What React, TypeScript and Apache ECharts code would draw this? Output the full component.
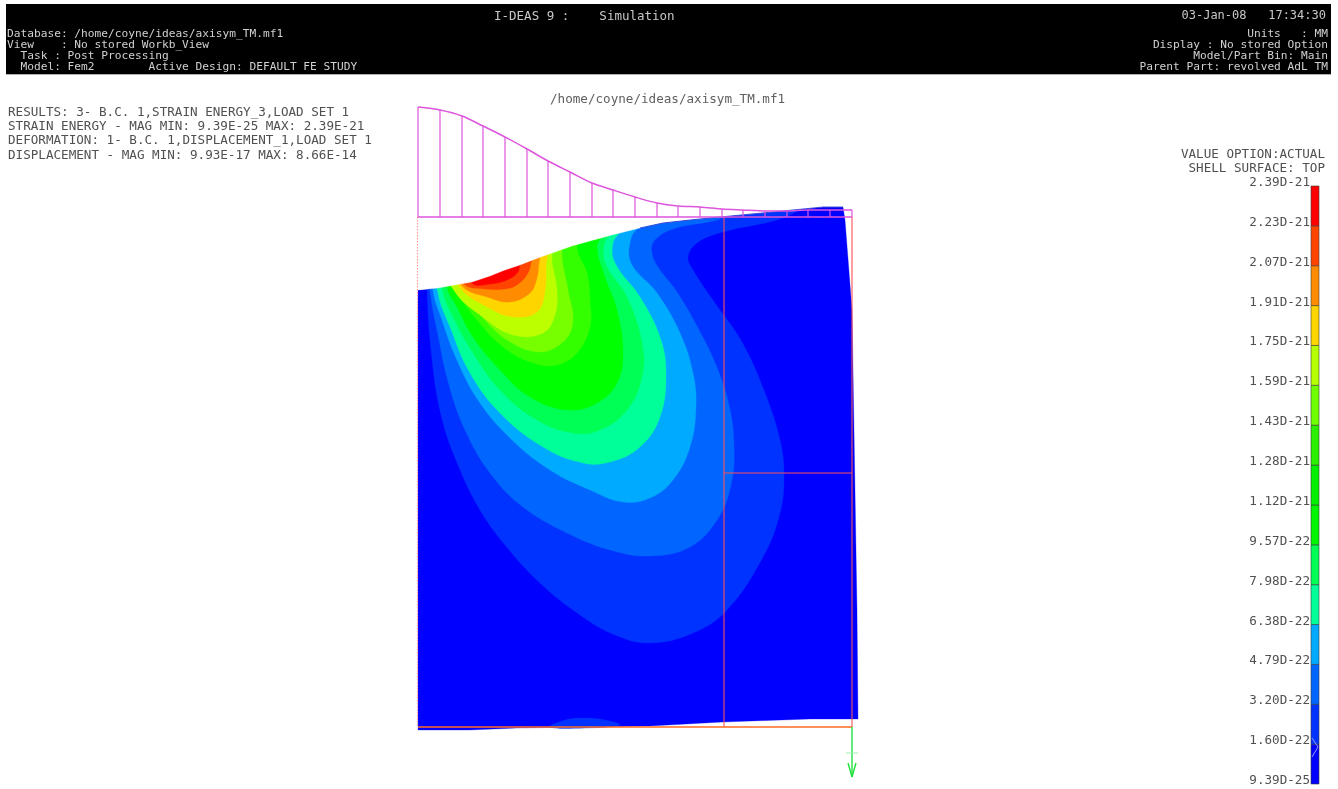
import React, { useEffect, useRef } from "react";
import * as echarts from "echarts";

type Pt = [number, number];

// Header and annotation text
const headerLeft = [
  "Database: /home/coyne/ideas/axisym_TM.mf1",
  "View    : No stored Workb_View",
  "  Task : Post Processing",
  "  Model: Fem2        Active Design: DEFAULT FE STUDY",
];
const headerRight = ["Units   : MM", "Display : No stored Option", "Model/Part Bin: Main", "Parent Part: revolved AdL TM"];
const headerCenter = "I-DEAS 9 :    Simulation";
const headerDate = "03-Jan-08   17:34:30";
const resultLines = [
  "RESULTS: 3- B.C. 1,STRAIN ENERGY_3,LOAD SET 1",
  "STRAIN ENERGY - MAG MIN: 9.39E-25 MAX: 2.39E-21",
  "DEFORMATION: 1- B.C. 1,DISPLACEMENT_1,LOAD SET 1",
  "DISPLACEMENT - MAG MIN: 9.93E-17 MAX: 8.66E-14",
];
const modelPath = "/home/coyne/ideas/axisym_TM.mf1";
const legendHead = ["VALUE OPTION:ACTUAL", "SHELL SURFACE: TOP"];

// Colour bar, bottom to top
const tickLabels = ["9.39D-25", "1.60D-22", "3.20D-22", "4.79D-22", "6.38D-22", "7.98D-22", "9.57D-22", "1.12D-21", "1.28D-21", "1.43D-21", "1.59D-21", "1.75D-21", "1.91D-21", "2.07D-21", "2.23D-21", "2.39D-21"];
const bandColors = ["#0000ff", "#0033ff", "#0066ff", "#00aaff", "#00ff99", "#00ff55", "#00f500", "#00f000", "#2af000", "#70ff00", "#b5ff00", "#ffd500", "#ff8c00", "#ff4400", "#ff0000"];

// Deformed body outline
const bodyOutline: Pt[] = [[418, 290], [438, 288], [455, 285], [472, 282], [490, 276], [505, 270], [520, 265], [538, 258], [555, 252], [572, 246], [590, 241], [612, 235], [640, 228], [663, 223], [690, 220], [720, 217], [773, 212], [823, 207], [843, 207], [845, 220], [852, 310], [857, 610], [858, 719], [810, 719], [723, 722], [650, 726], [517, 728], [470, 730], [418, 730]];
const surfaceCount = 19;

// Contour level outlines, outermost first
const contour1: Pt[] = [[800, 205], [783, 218], [723, 232], [697, 243], [688, 257], [693, 270], [715, 303], [742, 342], [765, 393], [780, 440], [784, 475], [780, 513], [763, 557], [727, 610], [693, 633], [650, 643], [615, 635], [580, 615], [540, 583], [505, 545], [480, 510], [458, 465], [441, 415], [431, 350], [427, 290], [426, 240], [600, 190]];
const contour1b: Pt[] = [[550, 727], [565, 720], [585, 718], [605, 720], [620, 725], [585, 728]];
const contour2: Pt[] = [[730, 210], [720, 219], [673, 229], [654, 241], [652, 253], [658, 267], [677, 292], [698, 328], [716, 365], [729, 405], [734, 445], [731, 485], [717, 520], [690, 547], [650, 556], [610, 550], [567, 533], [523, 507], [490, 473], [465, 430], [449, 385], [438, 335], [430, 290], [428, 240], [600, 190]];
const contour3: Pt[] = [[640, 220], [631, 238], [631, 263], [657, 293], [680, 333], [693, 373], [696, 407], [690, 447], [673, 480], [650, 498], [623, 502], [590, 490], [550, 470], [510, 438], [478, 400], [456, 358], [442, 320], [433, 290], [432, 240], [550, 200]];
const contour4: Pt[] = [[622, 225], [613, 243], [615, 263], [640, 297], [660, 337], [666, 373], [660, 417], [640, 447], [610, 462], [583, 463], [543, 447], [500, 413], [470, 373], [450, 327], [438, 293], [436, 250], [550, 210]];
const contour5: Pt[] = [[612, 225], [604, 245], [606, 265], [627, 297], [642, 343], [642, 377], [627, 410], [600, 430], [573, 433], [537, 420], [500, 390], [473, 353], [453, 317], [443, 292], [440, 260], [540, 215]];
const contour6: Pt[] = [[603, 230], [597, 247], [605, 277], [617, 310], [623, 353], [617, 383], [597, 403], [567, 410], [530, 397], [500, 370], [473, 337], [457, 307], [448, 290], [445, 262], [530, 215]];
const contour7: Pt[] = [[585, 225], [577, 247], [587, 273], [590, 300], [590, 327], [577, 353], [557, 365], [533, 363], [503, 347], [477, 320], [460, 295], [455, 270], [520, 225]];
const contour8: Pt[] = [[570, 225], [562, 250], [568, 290], [573, 320], [565, 340], [540, 352], [507, 340], [483, 318], [463, 295], [450, 285], [450, 265], [510, 225]];
const contour9: Pt[] = [[560, 225], [552, 255], [557, 290], [555, 315], [543, 333], [513, 335], [480, 315], [455, 292], [450, 270], [510, 230]];
const contour10: Pt[] = [[555, 230], [547, 258], [545, 292], [537, 312], [513, 317], [487, 307], [460, 288], [456, 270], [510, 235]];
const contour11: Pt[] = [[548, 235], [540, 258], [537, 278], [530, 293], [510, 302], [487, 297], [463, 287], [460, 270], [505, 240]];
const contour12: Pt[] = [[540, 240], [532, 260], [528, 273], [517, 285], [505, 289], [485, 289], [465, 285], [462, 272], [500, 245]];
const contour13: Pt[] = [[530, 245], [520, 264], [518, 272], [507, 280], [490, 284], [473, 284], [470, 270], [500, 250]];

const contourLevels: { pts: Pt[]; color: string; smooth: number }[] = [
  { pts: bodyOutline, color: bandColors[0], smooth: 0 },
  { pts: contour1, color: bandColors[1], smooth: 0.4 },
  { pts: contour1b, color: bandColors[1], smooth: 0.4 },
  { pts: contour2, color: bandColors[2], smooth: 0.4 },
  { pts: contour3, color: bandColors[3], smooth: 0.4 },
  { pts: contour4, color: bandColors[4], smooth: 0.4 },
  { pts: contour5, color: bandColors[5], smooth: 0.4 },
  { pts: contour6, color: "#00ff00", smooth: 0.4 },
  { pts: contour7, color: "#33ff00", smooth: 0.4 },
  { pts: contour8, color: "#77ff00", smooth: 0.4 },
  { pts: contour9, color: "#bbff00", smooth: 0.4 },
  { pts: contour10, color: "#ffd500", smooth: 0.4 },
  { pts: contour11, color: "#ff8c00", smooth: 0.4 },
  { pts: contour12, color: "#ff4400", smooth: 0.4 },
  { pts: contour13, color: "#ff0000", smooth: 0.4 },
];

// Pressure load on the top face
const loadBase = 217;
const loadX = [418, 440, 462, 483, 505, 527, 548, 570, 592, 613, 635, 657, 678, 700, 722, 743, 765, 787, 808, 830, 852];
const loadTop = [107, 110, 116, 126, 137, 149, 161, 172, 183, 190, 197, 203, 206, 207, 209, 210, 211, 211, 210, 210, 210];

// Undeformed mesh and the reaction arrow [x1, y1, x2, y2]
const meshRed: number[][] = [[724, 217, 724, 727], [724, 473, 852, 473], [852, 217, 852, 727]];
const meshOrange: number[][] = [[418, 727, 852, 727]];
const meshDotted: number[][] = [[417.5, 217, 417.5, 727]];
const arrowLines: number[][] = [[852, 727, 852, 777], [848, 763, 852, 777], [856, 763, 852, 777]];
const arrowTick: number[][] = [[846, 753, 858, 753]];
const barMarker: Pt[] = [[1312, 738], [1318, 747], [1312, 757]];

const PAGE_W = 1338;
const PAGE_H = 789;
const MONO = "'DejaVu Sans Mono', 'Liberation Mono', monospace";

function txt(text: string, x: number, y: number, size: number, fill: string, align = "left") {
  return {
    type: "text",
    x,
    y,
    z: 20,
    style: { text, fill, fontFamily: MONO, fontSize: size, textAlign: align, textVerticalAlign: "middle" },
  };
}

function segments(name: string, segs: number[][], color: string, width: number, dash?: number[]) {
  return {
    type: "custom",
    name,
    coordinateSystem: "cartesian2d",
    xAxisIndex: 0,
    yAxisIndex: 0,
    clip: false,
    silent: true,
    z: 5,
    data: segs,
    renderItem: (_: any, api: any) => {
      const a = api.coord([api.value(0), api.value(1)]);
      const b = api.coord([api.value(2), api.value(3)]);
      return {
        type: "line",
        shape: { x1: a[0], y1: a[1], x2: b[0], y2: b[1] },
        style: { stroke: color, lineWidth: width, lineDash: dash, fill: "none" },
      };
    },
  };
}

export default function App() {
  const ref = useRef<HTMLDivElement>(null);
  useEffect(() => {
    const chart = echarts.init(ref.current!, undefined, { renderer: "svg" });
    const mask: Pt[] = [...bodyOutline.slice(0, surfaceCount), [870, 207], [870, 100], [405, 100], [405, 290]];
    const layers = [...contourLevels, { pts: mask, color: "#ffffff", smooth: 0 }];
    const graphics: any[] = [
      { type: "rect", z: 10, shape: { x: 6, y: 4, width: 1325, height: 70 }, style: { fill: "#000000" } },
      { type: "rect", z: 10, shape: { x: 6, y: 74, width: 1325, height: 1 }, style: { fill: "#b0b0b0" } },
      txt(headerCenter, 494, 15, 12.5, "#c8c8c8"),
      txt(headerDate, 1326, 15, 12, "#c8c8c8", "right"),
      ...headerLeft.map((s, i) => txt(s, 7, [33, 44, 55, 66][i], 11.2, "#d0d0d0")),
      ...headerRight.map((s, i) => txt(s, 1328, [33, 44, 55, 66][i], 11.2, "#d0d0d0", "right")),
      ...resultLines.map((s, i) => txt(s, 8, [111, 125.5, 139.5, 154][i], 12.6, "#505050")),
      txt(modelPath, 550, 98, 12.6, "#606060"),
      ...legendHead.map((s, i) => txt(s, 1325, [153, 167][i], 12.6, "#505050", "right")),
    ];
    chart.setOption({
      animation: false,
      backgroundColor: "#ffffff",
      graphic: graphics,
      grid: [
        { left: 0, right: 0, top: 0, bottom: 0 },
        { left: 1311, width: 8, top: 186, height: 598 },
      ],
      xAxis: [
        { type: "value", gridIndex: 0, min: 0, max: PAGE_W, show: false },
        { type: "value", gridIndex: 1, min: 0, max: 1, show: false },
      ],
      yAxis: [
        { type: "value", gridIndex: 0, min: 0, max: PAGE_H, inverse: true, show: false },
        {
          type: "value",
          gridIndex: 1,
          min: 0,
          max: 15,
          interval: 1,
          axisLine: { show: false },
          axisTick: { show: false },
          splitLine: { show: false },
          axisLabel: {
            margin: 1,
            color: "#505050",
            fontFamily: MONO,
            fontSize: 12.6,
            showMinLabel: true,
            showMaxLabel: true,
            verticalAlign: "bottom",
            lineHeight: 9,
            formatter: (v: number) => tickLabels[Math.round(v)],
          },
        },
      ],
      series: [
        {
          type: "custom",
          name: "contours",
          coordinateSystem: "cartesian2d",
          xAxisIndex: 0,
          yAxisIndex: 0,
          clip: false,
          silent: true,
          z: 2,
          data: layers.map((_, i) => [i]),
          renderItem: (params: any, api: any) => {
            const l = layers[params.dataIndex];
            return {
              type: "polygon",
              shape: { points: l.pts.map((p) => api.coord(p)), smooth: l.smooth },
              style: { fill: l.color, stroke: l.color, lineWidth: 0.3 },
            };
          },
        },
        {
          type: "line",
          name: "surfaceEdge",
          xAxisIndex: 0,
          yAxisIndex: 0,
          z: 3,
          clip: false,
          symbol: "none",
          silent: true,
          data: bodyOutline.slice(12, surfaceCount),
          lineStyle: { color: "#1828d0", width: 0.8 },
        },
        segments("meshRed", meshRed, "#f85058", 1.1),
        segments("meshOrange", meshOrange, "#ff6a20", 1.4),
        segments("meshDotted", meshDotted, "#ff9a90", 1.2, [1.5, 1.5]),
        segments("loadBase", [[loadX[0], loadBase, loadX[loadX.length - 1], loadBase]], "#dd55dd", 1.5),
        segments("loadBars", loadX.map((x, i) => [x, loadTop[i], x, loadBase]), "#dd55dd", 1.2),
        segments("arrow", arrowLines, "#20e040", 1.4),
        segments("arrowTick", arrowTick, "#a0eeb0", 1),
        {
          type: "line",
          name: "load",
          xAxisIndex: 0,
          yAxisIndex: 0,
          z: 5,
          clip: false,
          symbol: "none",
          silent: true,
          smooth: 0.3,
          data: loadX.map((x, i) => [x, loadTop[i]]),
          lineStyle: { color: "#dd55dd", width: 1.5 },
        },
        {
          type: "custom",
          name: "colorBar",
          coordinateSystem: "cartesian2d",
          xAxisIndex: 1,
          yAxisIndex: 1,
          clip: false,
          silent: true,
          z: 6,
          data: bandColors.map((_, i) => [i]),
          renderItem: (params: any, api: any) => {
            const i = params.dataIndex;
            const a = api.coord([0, i + 1]);
            const b = api.coord([1, i]);
            return {
              type: "rect",
              shape: { x: a[0], y: a[1], width: b[0] - a[0], height: b[1] - a[1] },
              style: { fill: bandColors[i], stroke: "#3a3a3a", lineWidth: 0.6 },
            };
          },
        },
        {
          type: "line",
          name: "marker",
          xAxisIndex: 0,
          yAxisIndex: 0,
          z: 7,
          clip: false,
          symbol: "none",
          silent: true,
          data: barMarker,
          lineStyle: { color: "#9a9aff", width: 1 },
        },
      ],
    });
    return () => chart.dispose();
  }, []);
  return (
    <div
      ref={ref}
      style={{ position: "absolute", left: 0, top: 0, width: PAGE_W, height: PAGE_H, filter: "blur(0.5px)" }}
    />
  );
}
